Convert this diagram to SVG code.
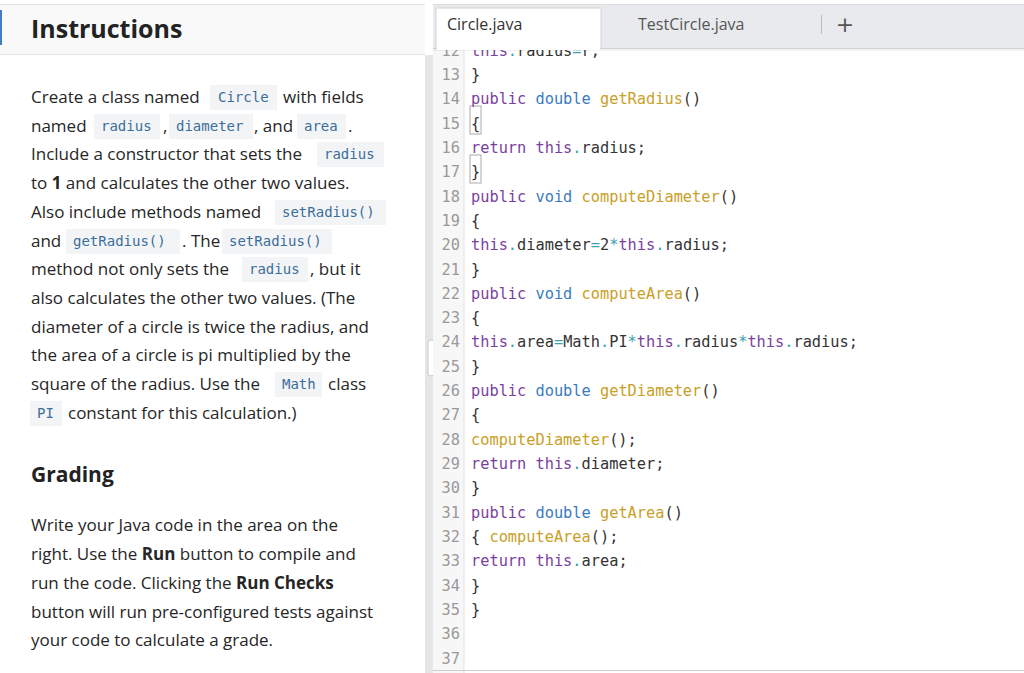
<svg xmlns="http://www.w3.org/2000/svg" width="1024" height="673" viewBox="0 0 1024 673">
<style>
.t{font-family:"Open Sans",sans-serif;font-size:17px;fill:#262626}
.b{font-weight:bold}
.h{font-family:"Open Sans",sans-serif;font-weight:bold;fill:#222}
.ic{font-family:"DejaVu Sans Mono",monospace;font-size:14px;fill:#3b6e9c}
.cb{fill:#f3f4f5}
.code{font-family:"DejaVu Sans Mono",monospace;font-size:15.3px;fill:#333}
.ln{font-family:"DejaVu Sans Mono",monospace;font-size:15.3px;fill:#999;text-anchor:end}
.k{fill:#7b3fa0}.ty{fill:#3a7bbf}.f{fill:#c9a028}.p{fill:#3aa0b0}
</style>
<rect width="1024" height="673" fill="#fff"/>
<g id="instructions">
<rect x="0" y="5" width="425" height="668" fill="#fff"/>
<rect x="0" y="5" width="425" height="50" fill="#f9f9f9"/>
<line x1="0" y1="54.5" x2="425" y2="54.5" stroke="#e2e2e2"/>
<line x1="0" y1="4.5" x2="425" y2="4.5" stroke="#e2e2e2"/>
<rect x="0" y="10" width="2" height="35" fill="#3d7fc2"/>
<text class="h" x="31" y="38" font-size="25">Instructions</text>
<rect class="cb" x="210" y="85" width="67" height="25"/><rect class="cb" x="94" y="114" width="66" height="25"/><rect class="cb" x="169" y="114" width="84" height="25"/><rect class="cb" x="297" y="114" width="49" height="25"/><rect class="cb" x="317" y="142" width="67" height="25"/><rect class="cb" x="275" y="200" width="111" height="25"/><rect class="cb" x="66" y="229" width="114" height="25"/><rect class="cb" x="222" y="229" width="110" height="25"/><rect class="cb" x="242" y="257" width="66" height="25"/><rect class="cb" x="275" y="372" width="47" height="25"/><rect class="cb" x="30" y="401" width="32" height="25"/>
<text class="t" x="31" y="103">Create a class named</text><text class="ic" x="218" y="102">Circle</text><text class="t" x="283" y="103">with fields</text>
<text class="t" x="31" y="132">named</text><text class="ic" x="101" y="131">radius</text><text class="t" x="163" y="132">,</text><text class="ic" x="176" y="131">diameter</text><text class="t" x="254" y="132">, and</text><text class="ic" x="304" y="131">area</text><text class="t" x="348" y="132">.</text>
<text class="t" x="31" y="160">Include a constructor that sets the</text><text class="ic" x="324" y="159">radius</text>
<text class="t" x="31" y="189">to <tspan class="b">1</tspan> and calculates the other two values.</text>
<text class="t" x="31" y="218">Also include methods named</text><text class="ic" x="282" y="217">setRadius()</text>
<text class="t" x="31" y="247">and</text><text class="ic" x="73" y="246">getRadius()</text><text class="t" x="182" y="247">. The</text><text class="ic" x="229" y="246">setRadius()</text>
<text class="t" x="31" y="275">method not only sets the</text><text class="ic" x="249" y="274">radius</text><text class="t" x="310" y="275">, but it</text>
<text class="t" x="31" y="304">also calculates the other two values. (The</text>
<text class="t" x="31" y="333">diameter of a circle is twice the radius, and</text>
<text class="t" x="31" y="361">the area of a circle is pi multiplied by the</text>
<text class="t" x="31" y="390">square of the radius. Use the</text><text class="ic" x="282" y="389">Math</text><text class="t" x="328" y="390">class</text>
<text class="ic" x="37" y="418">PI</text><text class="t" x="68" y="419">constant for this calculation.)</text>
<text class="h" x="31" y="482" font-size="21">Grading</text>
<text class="t" x="31" y="531">Write your Java code in the area on the</text>
<text class="t" x="31" y="560">right. Use the <tspan class="b">Run</tspan> button to compile and</text>
<text class="t" x="31" y="589">run the code. Clicking the <tspan class="b">Run Checks</tspan></text>
<text class="t" x="31" y="618">button will run pre-configured tests against</text>
<text class="t" x="31" y="646">your code to calculate a grade.</text>
</g>
<g id="editor">
<rect x="425" y="55" width="8" height="618" fill="#e6e6e6"/>
<rect x="428" y="340" width="6" height="36" rx="3" fill="#fff" stroke="#ccc"/>
<rect x="433" y="43" width="591" height="630" fill="#fff"/>
<rect x="433" y="43" width="31" height="630" fill="#f7f7f7"/>
<line x1="464" y1="43" x2="464" y2="673" stroke="#e3e3e3"/>
<line x1="433" y1="670.5" x2="1024" y2="670.5" stroke="#ccc"/>
<text class="ln" x="460" y="56">12</text><text class="code" x="471" y="56"><tspan class="k">this</tspan><tspan class="p">.</tspan>radius<tspan class="p">=</tspan>r;</text>
<rect x="433" y="5" width="591" height="43" fill="#e9eaed"/>
<line x1="433" y1="48.5" x2="1024" y2="48.5" stroke="#d0d0d0"/>
<rect x="433" y="49" width="591" height="2" fill="#000" opacity="0.05"/>
<line x1="433" y1="4.5" x2="1024" y2="4.5" stroke="#ddd"/>
<rect x="436" y="8" width="165" height="40" fill="#fff" stroke="#d4d4d4"/>
<rect x="437" y="44" width="163" height="6" fill="#fff"/>
<text x="447" y="30" font-family="Open Sans,sans-serif" font-size="16" fill="#333">Circle.java</text>
<text x="638" y="30" font-family="Open Sans,sans-serif" font-size="16" fill="#555">TestCircle.java</text>
<line x1="821.5" y1="15" x2="821.5" y2="34" stroke="#bbb"/>
<text x="845" y="32" font-family="DejaVu Sans,sans-serif" font-size="22" fill="#555" text-anchor="middle">+</text>
<rect x="470" y="106" width="11" height="28" fill="none" stroke="#aaa"/>
<rect x="470" y="155" width="11" height="28" fill="none" stroke="#aaa"/>
<g class="ln">
<text x="460" y="80">13</text><text x="460" y="104">14</text><text x="460" y="129">15</text><text x="460" y="153">16</text><text x="460" y="177">17</text><text x="460" y="202">18</text><text x="460" y="226">19</text><text x="460" y="250">20</text><text x="460" y="275">21</text><text x="460" y="299">22</text><text x="460" y="323">23</text><text x="460" y="347">24</text><text x="460" y="372">25</text><text x="460" y="396">26</text><text x="460" y="420">27</text><text x="460" y="445">28</text><text x="460" y="469">29</text><text x="460" y="493">30</text><text x="460" y="518">31</text><text x="460" y="542">32</text><text x="460" y="566">33</text><text x="460" y="591">34</text><text x="460" y="615">35</text><text x="460" y="639">36</text><text x="460" y="664">37</text>
</g>
<g class="code">
<text x="471" y="80">}</text>
<text x="471" y="104"><tspan class="k">public</tspan> <tspan class="ty">double</tspan> <tspan class="f">getRadius</tspan>()</text>
<text x="471" y="129">{</text>
<text x="471" y="153"><tspan class="k">return</tspan> <tspan class="k">this</tspan><tspan class="p">.</tspan>radius;</text>
<text x="471" y="177">}</text>
<text x="471" y="202"><tspan class="k">public</tspan> <tspan class="ty">void</tspan> <tspan class="f">computeDiameter</tspan>()</text>
<text x="471" y="226">{</text>
<text x="471" y="250"><tspan class="k">this</tspan><tspan class="p">.</tspan>diameter<tspan class="p">=</tspan>2<tspan class="p">*</tspan><tspan class="k">this</tspan><tspan class="p">.</tspan>radius;</text>
<text x="471" y="275">}</text>
<text x="471" y="299"><tspan class="k">public</tspan> <tspan class="ty">void</tspan> <tspan class="f">computeArea</tspan>()</text>
<text x="471" y="323">{</text>
<text x="471" y="347"><tspan class="k">this</tspan><tspan class="p">.</tspan>area<tspan class="p">=</tspan>Math<tspan class="p">.</tspan>PI<tspan class="p">*</tspan><tspan class="k">this</tspan><tspan class="p">.</tspan>radius<tspan class="p">*</tspan><tspan class="k">this</tspan><tspan class="p">.</tspan>radius;</text>
<text x="471" y="372">}</text>
<text x="471" y="396"><tspan class="k">public</tspan> <tspan class="ty">double</tspan> <tspan class="f">getDiameter</tspan>()</text>
<text x="471" y="420">{</text>
<text x="471" y="445"><tspan class="f">computeDiameter</tspan>();</text>
<text x="471" y="469"><tspan class="k">return</tspan> <tspan class="k">this</tspan><tspan class="p">.</tspan>diameter;</text>
<text x="471" y="493">}</text>
<text x="471" y="518"><tspan class="k">public</tspan> <tspan class="ty">double</tspan> <tspan class="f">getArea</tspan>()</text>
<text x="471" y="542">{ <tspan class="f">computeArea</tspan>();</text>
<text x="471" y="566"><tspan class="k">return</tspan> <tspan class="k">this</tspan><tspan class="p">.</tspan>area;</text>
<text x="471" y="591">}</text>
<text x="471" y="615">}</text>
</g>
</g>
</svg>
